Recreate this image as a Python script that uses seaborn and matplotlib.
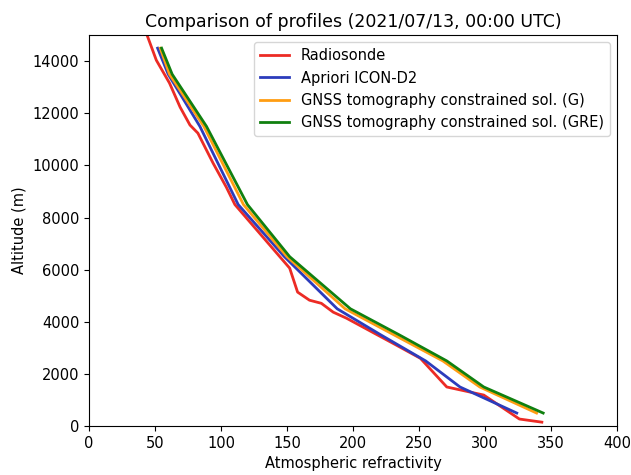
import matplotlib
matplotlib.use("Agg")
import matplotlib.pyplot as plt
import seaborn as sns
import pandas as pd

# Radiosonde profile
radio_alt = [15000, 14040, 13160, 12240, 11550, 11240, 10090, 9170, 8500, 6060,
             5140, 4830, 4710, 4370, 4140, 3100, 2600, 1500, 1190, 270, 150]
radio_n = [44, 51, 61, 69, 76.5, 82.5, 94, 104, 110.5, 152,
           158, 167, 176, 185, 195, 233, 251, 271, 299, 326, 343]

# Model / tomography levels
levels = [14500, 13500, 11500, 8500, 6500, 4500, 3500, 2500, 1500, 500]
apriori_n = [52, 60, 84, 113, 148, 188, 221, 255, 281, 324]
tomo_g_n = [54, 61, 87, 117, 150, 194, 231, 268, 296, 339]
tomo_gre_n = [55, 63, 89, 120, 152, 198, 235, 271, 299, 344]

names = ["Radiosonde", "Apriori ICON-D2",
         "GNSS tomography constrained sol. (G)",
         "GNSS tomography constrained sol. (GRE)"]
colors = ["#ec2b25", "#2c3cbc", "#ff9d12", "#10800f"]

frames = [pd.DataFrame({"n": radio_n, "alt": radio_alt, "src": names[0]})]
for nm, vals in zip(names[1:], [apriori_n, tomo_g_n, tomo_gre_n]):
    frames.append(pd.DataFrame({"n": vals, "alt": levels, "src": nm}))
df = pd.concat(frames, ignore_index=True)

fig = plt.figure(figsize=(6.31, 4.75), dpi=100)
ax = fig.add_axes([0.141, 0.103, 0.837, 0.823])

sns.lineplot(data=df, x="n", y="alt", hue="src", palette=dict(zip(names, colors)),
             sort=False, estimator=None, linewidth=2, ax=ax)

ax.set_xlim(0, 400)
ax.set_ylim(0, 15000)
ax.set_xticks(range(0, 401, 50))
ax.set_yticks(range(0, 14001, 2000))
ax.set_xlabel("Atmospheric refractivity", fontsize=10.5)
ax.set_ylabel("Altitude (m)", fontsize=10.5)
ax.set_title("Comparison of profiles (2021/07/13, 00:00 UTC)", fontsize=12.5)
ax.tick_params(labelsize=10.5)
leg = ax.legend(loc="upper right", fontsize=10.5, frameon=True)
leg.set_title(None)

fig.savefig("out.png", dpi=100)
